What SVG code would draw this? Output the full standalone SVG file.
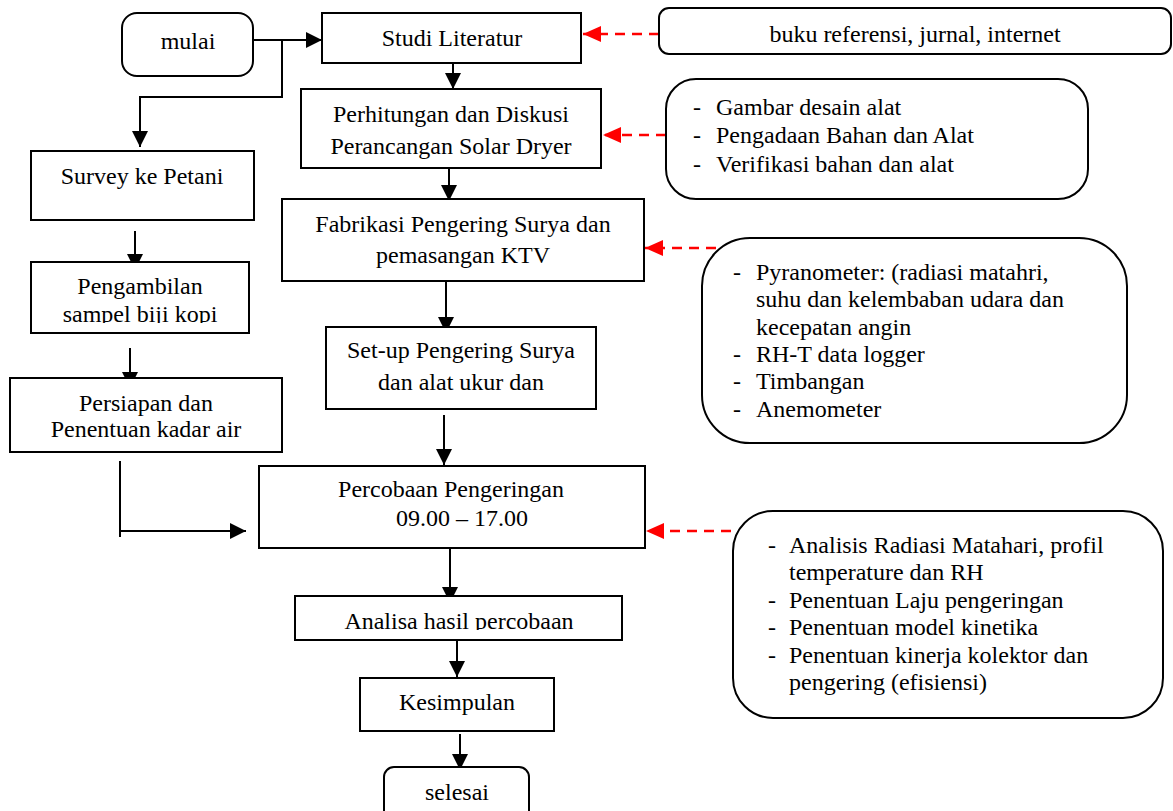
<svg xmlns="http://www.w3.org/2000/svg" width="1173" height="811" viewBox="0 0 1173 811">
<style>
  .box { fill: #fff; stroke: #000; stroke-width: 2; }
  .t { font-family: "Liberation Serif", "Times New Roman", serif; font-size: 24px; fill: #000; }
  .c { text-anchor: middle; }
  .flow { fill: none; stroke: #000; stroke-width: 2; }
  .ref { fill: none; stroke: #ff0000; stroke-width: 2.5; stroke-dasharray: 10 7; }
</style>
<defs>
  <marker id="ah" markerUnits="userSpaceOnUse" markerWidth="16" markerHeight="16" viewBox="0 0 16 16" refX="16" refY="8" orient="auto">
    <path d="M0,0 L16,8 L0,16 z" fill="#000"/>
  </marker>
  <marker id="ahr" markerUnits="userSpaceOnUse" markerWidth="18" markerHeight="16" viewBox="0 0 18 16" refX="18" refY="8" orient="auto">
    <path d="M0,0 L18,8 L0,16 z" fill="#ff0000"/>
  </marker>
  <clipPath id="clipAmbil"><rect x="31" y="262" width="218" height="61"/></clipPath>
  <clipPath id="clipAnalisa"><rect x="295" y="596" width="327" height="34"/></clipPath>
</defs>
<rect width="1173" height="811" fill="#fff"/>

<g id="connectors">
  <line class="flow" x1="253" y1="40" x2="322" y2="40" marker-end="url(#ah)"/>
  <polyline class="flow" points="282,40 282,97 140,97 140,147" marker-end="url(#ah)"/>
  <line class="flow" x1="453" y1="63" x2="453" y2="89" marker-end="url(#ah)"/>
  <line class="flow" x1="449" y1="168" x2="449" y2="201" marker-end="url(#ah)"/>
  <line class="flow" x1="446" y1="281" x2="446" y2="333" marker-end="url(#ah)"/>
  <line class="flow" x1="444" y1="415" x2="444" y2="465" marker-end="url(#ah)"/>
  <line class="flow" x1="450" y1="548" x2="450" y2="603" marker-end="url(#ah)"/>
  <line class="flow" x1="457" y1="640" x2="457" y2="677" marker-end="url(#ah)"/>
  <line class="flow" x1="460" y1="734" x2="460" y2="770" marker-end="url(#ah)"/>
  <line class="flow" x1="135" y1="231" x2="135" y2="270" marker-end="url(#ah)"/>
  <line class="flow" x1="130" y1="348" x2="130" y2="388" marker-end="url(#ah)"/>
  <polyline class="flow" points="120,461 120,537"/>
  <line class="flow" x1="120" y1="531" x2="246" y2="531" marker-end="url(#ah)"/>
  <line class="ref" x1="659" y1="34" x2="583" y2="34" marker-end="url(#ahr)"/>
  <line class="ref" x1="666" y1="135" x2="603" y2="135" marker-end="url(#ahr)"/>
  <line class="ref" x1="733" y1="248" x2="645" y2="248" marker-end="url(#ahr)"/>
  <line class="ref" x1="748" y1="531" x2="646" y2="531" marker-end="url(#ahr)"/>
</g>

<g id="mulai">
  <rect class="box" x="122" y="13" width="131" height="63" rx="15"/>
  <text class="t c" x="188" y="49">mulai</text>
</g>
<g id="studi">
  <rect class="box" x="322" y="13" width="259" height="50"/>
  <text class="t c" x="452" y="46">Studi Literatur</text>
</g>
<g id="buku">
  <rect class="box" x="659" y="8" width="512" height="46" rx="10"/>
  <text class="t c" x="915" y="42">buku referensi, jurnal, internet</text>
</g>
<g id="perhitungan">
  <rect class="box" x="301" y="89" width="300" height="79"/>
  <text class="t c" x="451" y="122">Perhitungan dan Diskusi</text>
  <text class="t c" x="451" y="154">Perancangan Solar Dryer</text>
</g>
<g id="list1">
  <rect class="box" x="666" y="79" width="422" height="120" rx="30"/>
  <text class="t" x="693" y="115">-</text><text class="t" x="716" y="115">Gambar desain alat</text>
  <text class="t" x="693" y="143">-</text><text class="t" x="716" y="143">Pengadaan Bahan dan Alat</text>
  <text class="t" x="693" y="172">-</text><text class="t" x="716" y="172">Verifikasi bahan dan alat</text>
</g>
<g id="survey">
  <rect class="box" x="31" y="151" width="223" height="69"/>
  <text class="t c" x="142" y="184">Survey ke Petani</text>
</g>
<g id="fabrikasi">
  <rect class="box" x="282" y="199" width="362" height="82"/>
  <text class="t c" x="463" y="232">Fabrikasi Pengering Surya dan</text>
  <text class="t c" x="463" y="263">pemasangan KTV</text>
</g>
<g id="list2">
  <rect class="box" x="702" y="238" width="425" height="205" rx="48"/>
  <text class="t" x="733" y="280">-</text><text class="t" x="756" y="280">Pyranometer: (radiasi matahri,</text>
  <text class="t" x="756" y="307">suhu dan kelembaban udara dan</text>
  <text class="t" x="756" y="335">kecepatan angin</text>
  <text class="t" x="733" y="362">-</text><text class="t" x="756" y="362">RH-T data logger</text>
  <text class="t" x="733" y="389">-</text><text class="t" x="756" y="389">Timbangan</text>
  <text class="t" x="733" y="417">-</text><text class="t" x="756" y="417">Anemometer</text>
</g>
<g id="pengambilan">
  <rect class="box" x="31" y="262" width="218" height="71"/>
  <g clip-path="url(#clipAmbil)">
    <text class="t c" x="140" y="294">Pengambilan</text>
    <text class="t c" x="140" y="322">sampel biji kopi</text>
  </g>
</g>
<g id="setup">
  <rect class="box" x="326" y="327" width="270" height="82"/>
  <text class="t c" x="461" y="358">Set-up Pengering Surya</text>
  <text class="t c" x="461" y="390">dan alat ukur dan</text>
</g>
<g id="persiapan">
  <rect class="box" x="10" y="378" width="272" height="74"/>
  <text class="t c" x="146" y="411">Persiapan dan</text>
  <text class="t c" x="146" y="437">Penentuan kadar air</text>
</g>
<g id="percobaan">
  <rect class="box" x="259" y="466" width="386" height="82"/>
  <text class="t c" x="451" y="497">Percobaan Pengeringan</text>
  <text class="t c" x="462" y="526">09.00 – 17.00</text>
</g>
<g id="list3">
  <rect class="box" x="733" y="511" width="430" height="207" rx="40"/>
  <text class="t" x="768" y="553">-</text><text class="t" x="789" y="553">Analisis Radiasi Matahari, profil</text>
  <text class="t" x="789" y="580">temperature dan RH</text>
  <text class="t" x="768" y="608">-</text><text class="t" x="789" y="608">Penentuan Laju pengeringan</text>
  <text class="t" x="768" y="635">-</text><text class="t" x="789" y="635">Penentuan model kinetika</text>
  <text class="t" x="768" y="663">-</text><text class="t" x="789" y="663">Penentuan kinerja kolektor dan</text>
  <text class="t" x="789" y="690">pengering (efisiensi)</text>
</g>
<g id="analisa">
  <rect class="box" x="295" y="596" width="327" height="44"/>
  <g clip-path="url(#clipAnalisa)">
    <text class="t c" x="459" y="629">Analisa hasil percobaan</text>
  </g>
</g>
<g id="kesimpulan">
  <rect class="box" x="360" y="678" width="194" height="53"/>
  <text class="t c" x="457" y="710">Kesimpulan</text>
</g>
<g id="selesai">
  <rect class="box" x="384" y="767" width="145" height="60" rx="10"/>
  <text class="t c" x="457" y="800">selesai</text>
</g>
</svg>
